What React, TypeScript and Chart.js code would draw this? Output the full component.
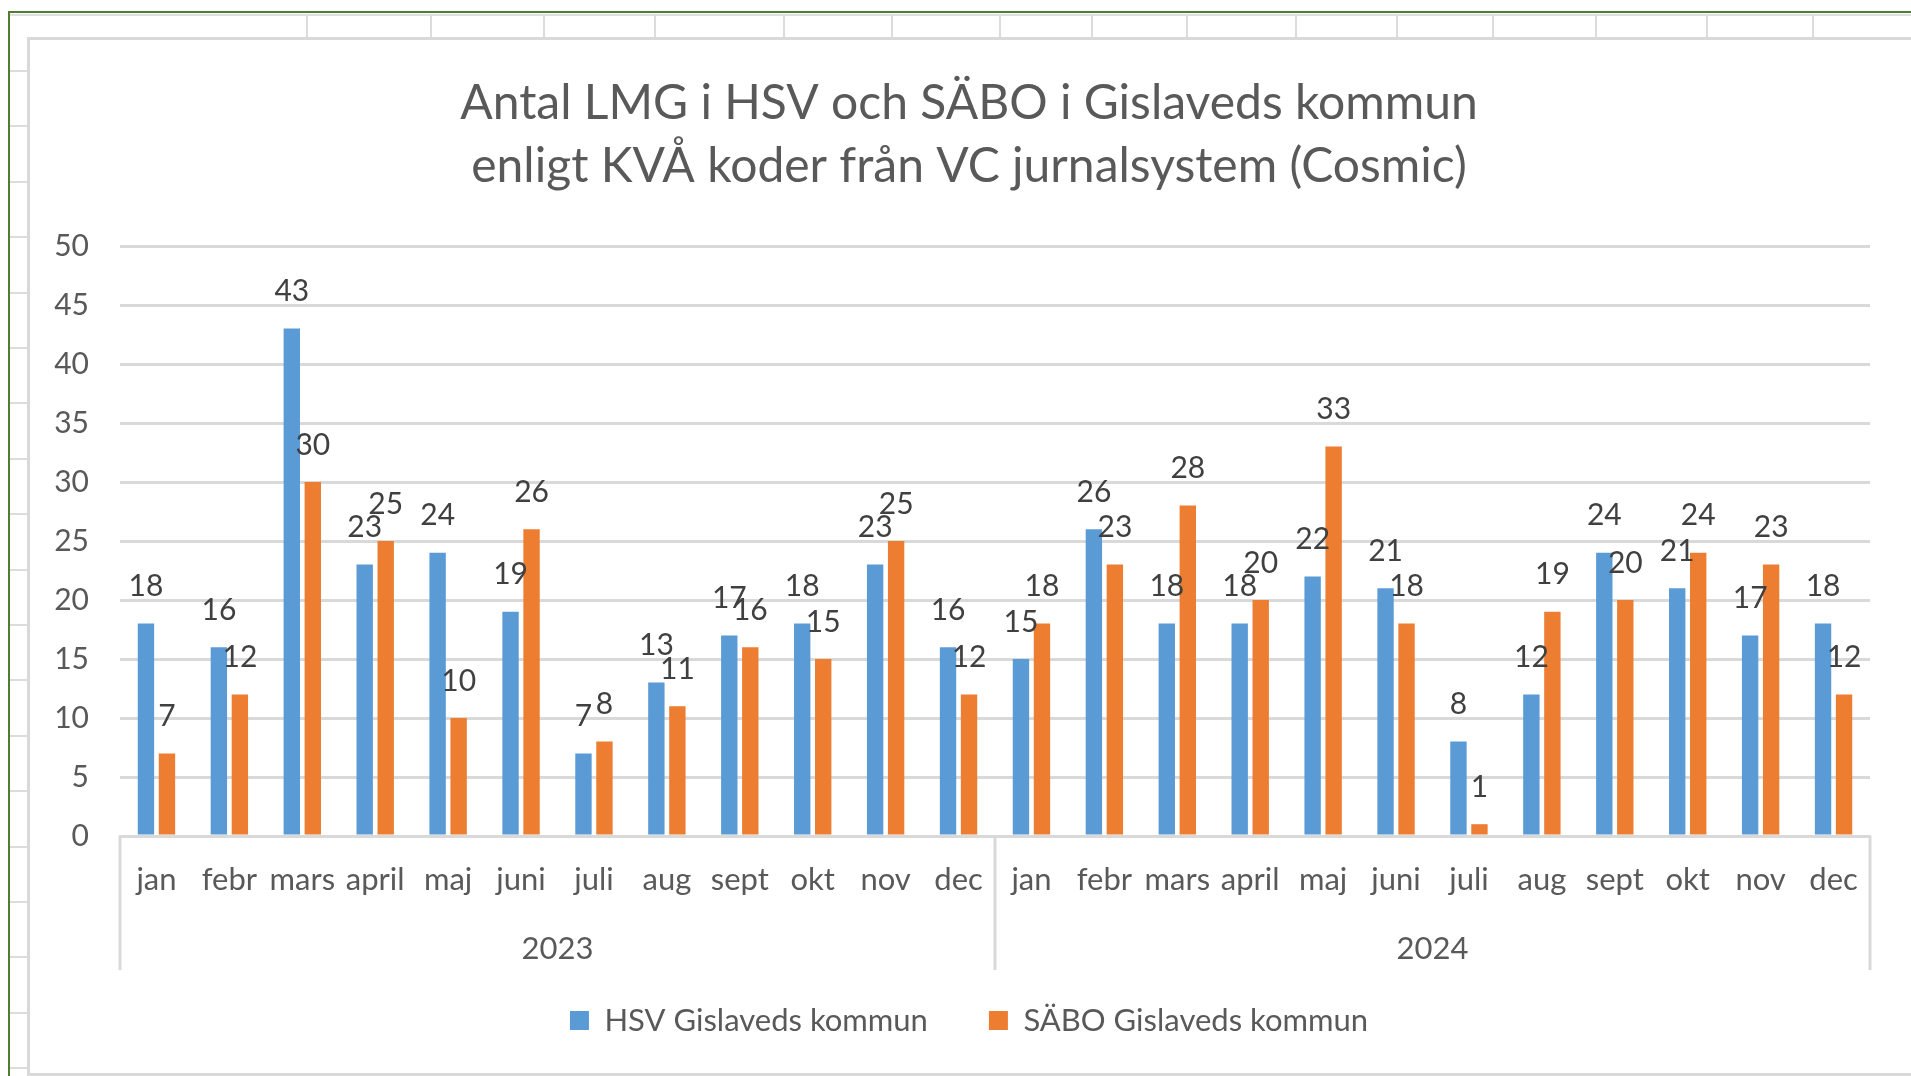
import React, { useEffect, useRef } from "react";
import { Chart, registerables } from "chart.js";

Chart.register(...registerables);

const months = ["jan", "febr", "mars", "april", "maj", "juni", "juli", "aug", "sept", "okt", "nov", "dec"];
const years = ["2023", "2024"];
const hsv2023 = [18, 16, 43, 23, 24, 19, 7, 13, 17, 18, 23, 16];
const hsv2024 = [15, 26, 18, 18, 22, 21, 8, 12, 24, 21, 17, 18];
const sabo2023 = [7, 12, 30, 25, 10, 26, 8, 11, 16, 15, 25, 12];
const sabo2024 = [18, 23, 28, 20, 33, 18, 1, 19, 20, 24, 23, 12];
const seriesNames = ["HSV Gislaveds kommun", "SÄBO Gislaveds kommun"];
const yTicks = { min: 0, max: 50, step: 5 };
const titleLines = ["Antal LMG i HSV och SÄBO i Gislaveds kommun", "enligt KVÅ koder från VC jurnalsystem (Cosmic)"];

const FONT = "Lato";
const GRID = "#d9d9d9";
const TEXT = "#595959";

const colLines = [306, 430, 543, 654, 783, 891, 999, 1091, 1186, 1295, 1396, 1492, 1595, 1706, 1812];
const rowLines: number[] = [];
for (let y = 70; y < 1076; y += 55.4) rowLines.push(Math.round(y));

const dataLabelPlugin = {
  id: "dataLabels",
  afterDatasetsDraw(chart: any) {
    const ctx = chart.ctx;
    ctx.save();
    ctx.font = `30px ${FONT}`;
    ctx.fillStyle = "#404040";
    ctx.textAlign = "center";
    ctx.textBaseline = "middle";
    chart.data.datasets.forEach((ds: any, di: number) => {
      const meta = chart.getDatasetMeta(di);
      meta.data.forEach((bar: any, i: number) => {
        ctx.fillText(String(ds.data[i]), bar.x, bar.y - 37);
      });
    });
    ctx.restore();
  },
};

// Multi-level category axis: year group labels and group separators
const yearAxisPlugin = {
  id: "yearAxis",
  afterDraw(chart: any) {
    const x = chart.scales.x;
    const ctx = chart.ctx;
    const top = chart.chartArea.bottom;
    const bottom = 970;
    const n = months.length;
    ctx.save();
    ctx.strokeStyle = GRID;
    ctx.lineWidth = 3;
    const bounds: number[] = [x.left];
    for (let g = 1; g < years.length; g++) {
      bounds.push((x.getPixelForValue(g * n - 1) + x.getPixelForValue(g * n)) / 2);
    }
    bounds.push(x.right);
    bounds.forEach((px: number) => {
      ctx.beginPath();
      ctx.moveTo(px, top);
      ctx.lineTo(px, bottom);
      ctx.stroke();
    });
    ctx.font = `31px ${FONT}`;
    ctx.fillStyle = TEXT;
    ctx.textAlign = "center";
    ctx.textBaseline = "middle";
    years.forEach((yr, g) => {
      const cx = (bounds[g] + bounds[g + 1]) / 2;
      ctx.fillText(yr, cx, 949);
    });
    ctx.restore();
  },
};

export default function App() {
  const ref = useRef<HTMLCanvasElement | null>(null);

  useEffect(() => {
    if (!ref.current) return;
    const labels = years.flatMap(() => months);
    const chart = new Chart(ref.current, {
      type: "bar",
      data: {
        labels,
        datasets: [
          {
            label: seriesNames[0],
            data: [...hsv2023, ...hsv2024],
            backgroundColor: "#5B9BD5",
            borderWidth: 0,
            categoryPercentage: 0.576,
            barPercentage: 0.78,
          },
          {
            label: seriesNames[1],
            data: [...sabo2023, ...sabo2024],
            backgroundColor: "#ED7D31",
            borderWidth: 0,
            categoryPercentage: 0.576,
            barPercentage: 0.78,
          },
        ],
      },
      options: {
        animation: false,
        responsive: false,
        maintainAspectRatio: false,
        layout: { padding: { left: 28, right: 1, top: 38, bottom: 30 } },
        plugins: {
          title: {
            display: true,
            text: titleLines,
            color: TEXT,
            font: { family: FONT, size: 48, weight: "normal", lineHeight: 63 / 48 },
            padding: { top: 34.5, bottom: 47.5 },
          },
          legend: {
            position: "bottom",
            labels: {
              color: TEXT,
              font: { family: FONT, size: 31 },
              boxWidth: 19,
              boxHeight: 19,
              padding: 61,
            },
          },
          tooltip: { enabled: false },
        },
        scales: {
          x: {
            type: "category",
            offset: true,
            grid: { display: true, drawOnChartArea: false, drawTicks: false, color: "transparent" },
            border: { display: true, color: GRID, width: 3 },
            ticks: { color: TEXT, font: { family: FONT, size: 31, lineHeight: 1.2 }, padding: 25.4, maxRotation: 0, autoSkip: false },
            afterFit: (s: any) => { s.height = 108; },
          },
          y: {
            min: yTicks.min,
            max: yTicks.max,
            ticks: { stepSize: yTicks.step, color: TEXT, font: { family: FONT, size: 30 }, padding: 31 },
            grid: { color: GRID, lineWidth: 3, drawTicks: false },
            border: { display: false },
            afterFit: (s: any) => { s.width = 92; },
          },
          yRight: {
            position: "right",
            display: true,
            ticks: { display: false },
            grid: { display: false, drawTicks: false },
            border: { display: false },
            afterFit: (s: any) => { s.width = 40; },
          },
        },
      },
      plugins: [dataLabelPlugin, yearAxisPlugin],
    });
    return () => chart.destroy();
  }, []);

  return (
    <div style={{ position: "fixed", left: 0, top: 0, width: 1911, height: 1076, background: "#fff", overflow: "hidden" }}>
      <div style={{ position: "absolute", left: 9, top: 14, width: 1902, height: 2, background: "#e0e0e0" }} />
      {colLines.map((x) => (
        <div key={"c" + x} style={{ position: "absolute", left: x, top: 14, width: 2, height: 26, background: "#dcdcdc" }} />
      ))}
      {rowLines.map((y) => (
        <div key={"r" + y} style={{ position: "absolute", left: 9, top: y, width: 22, height: 2, background: "#dcdcdc" }} />
      ))}
      <div style={{ position: "absolute", left: 9, top: 11, width: 1902, height: 2, background: "#4f7d32" }} />
      <div style={{ position: "absolute", left: 8, top: 11, width: 2, height: 1065, background: "#4f7d32" }} />
      <div style={{ position: "absolute", left: 27, top: 37, width: 1881, height: 1033, background: "#fff", border: "3px solid #d9d9d9" }} />
      <canvas ref={ref} width={1911} height={1076} style={{ position: "absolute", left: 0, top: 0, width: 1911, height: 1076 }} />
    </div>
  );
}
